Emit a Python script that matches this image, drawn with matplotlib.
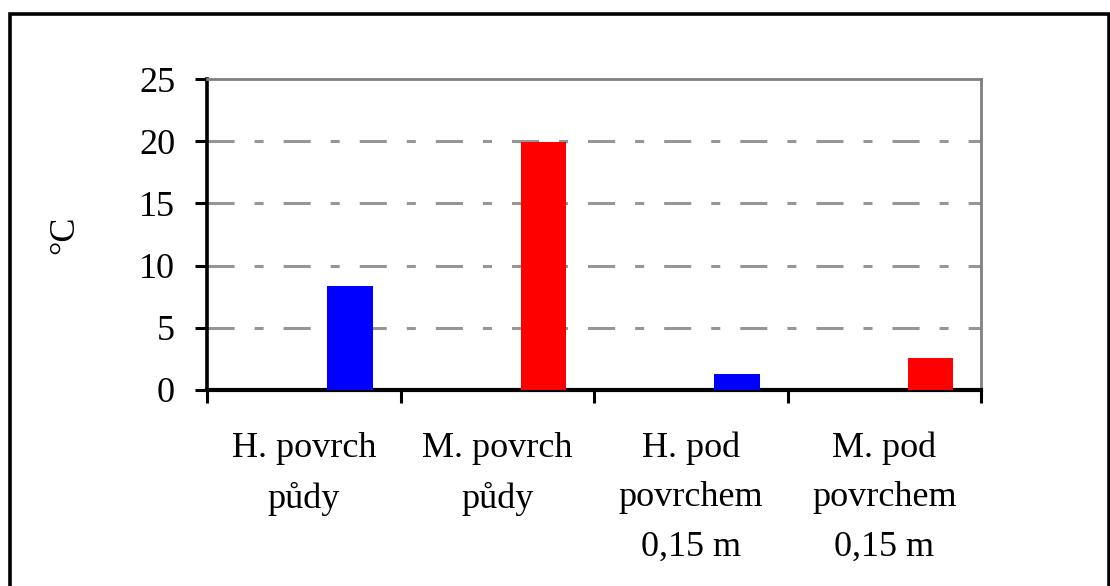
import matplotlib
matplotlib.use("Agg")
import matplotlib.pyplot as plt
from matplotlib.patches import Rectangle
import numpy as np

plt.rcParams['font.family'] = ['Liberation Serif', 'DejaVu Serif']
plt.rcParams['lines.scale_dashes'] = False

categories = ["H. povrch\npůdy", "M. povrch\npůdy",
              "H. pod\npovrchem\n0,15 m", "M. pod\npovrchem\n0,15 m"]
values = [8.4, 19.9, 1.3, 2.6]
bar_colors = ["#0000FF", "#FF0000", "#0000FF", "#FF0000"]
y_ticks = [0, 5, 10, 15, 20, 25]

fig = plt.figure(figsize=(11.10, 5.86), dpi=100)
ax = fig.add_axes([207/1110, 1-390/586, (981-207)/1110, (390-79)/586])

x = np.arange(len(categories))
ax.bar(x + 0.24, values, width=0.235, color=bar_colors, zorder=3)

ax.set_xlim(-0.5, len(categories) - 0.5)
ax.set_ylim(0, 25)
ax.set_yticks(y_ticks)
ax.set_yticklabels([str(t) for t in y_ticks], fontsize=26)

# boundary ticks as major, labels on minor
ax.set_xticks(np.arange(len(categories) + 1) - 0.5)
ax.set_xticklabels([])
ax.set_xticks(x, minor=True)
ax.set_xticklabels(categories, minor=True, fontsize=26, linespacing=1.65)
ax.tick_params(axis='x', which='major', direction='out', length=9.5, width=2.2, color='black')
ax.tick_params(axis='x', which='minor', length=0, pad=30)
ax.tick_params(axis='y', direction='out', length=9, width=2.2, color='black', pad=14)

# dash-dot gridlines
for t in y_ticks[1:-1]:
    ax.axhline(t, color='#969696', lw=2.2, dashes=(19.5, 14.4, 6.5, 14.4), zorder=1)

ax.spines['left'].set_color('black')
ax.spines['left'].set_linewidth(2.6)
ax.spines['bottom'].set_color('black')
ax.spines['bottom'].set_linewidth(3.0)
ax.spines['top'].set_color('#808080')
ax.spines['top'].set_linewidth(2.0)
ax.spines['right'].set_color('#808080')
ax.spines['right'].set_linewidth(2.0)

fig.text(65/1110, 1-235/586, "°C", rotation=90, fontsize=26,
         ha='center', va='center')

# outer frame
fig.patches.append(Rectangle((10/1110, -0.05), (1108.5-10)/1110, 1.05-13.5/586,
                             transform=fig.transFigure, fill=False,
                             edgecolor='black', lw=2.6, clip_on=False))

fig.savefig("out.png", dpi=100)
